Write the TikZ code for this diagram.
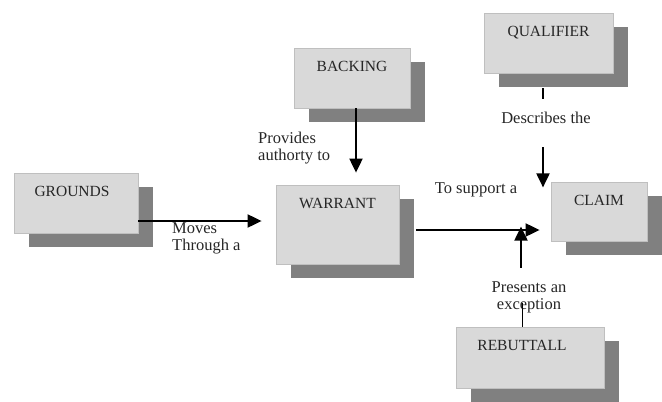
\documentclass[tikz,border=0pt]{standalone}
\usepackage{fontspec}
\setmainfont{Liberation Serif}
\usetikzlibrary{positioning, calc, arrows.meta, shadows}
\newcommand\argfont{\fontsize{15.5}{17}\selectfont}
\newcommand\linkfont{\fontsize{16.5}{17}\selectfont}
\tikzset{
  argbox/.style={draw=black!25, fill=black!15, line width=0.8pt, inner sep=0pt, minimum height=60pt,
    drop shadow={shadow xshift=15pt, shadow yshift=-14pt, fill=black!50, opacity=1}},
  title/.style={anchor=base, yshift=-24pt, font=\argfont, text=black!85},
  note/.style={font=\linkfont, inner sep=0pt, text=black!85},
  conn/.style={line width=2pt},
  >={Triangle[length=14pt,width=13pt]}
}
\begin{document}
\begin{tikzpicture}[x=1pt,y=-1pt]
\useasboundingbox (0,0) rectangle (662,402);
% the six parts of the argument
\node[argbox, minimum width=124pt, label={[title,xshift=-4pt]north:GROUNDS}] (grounds) at (76,203) {};
\node[argbox, minimum width=123pt, minimum height=79pt, label={[title]north:WARRANT}] (warrant) at (337.5,224.5) {};
\node[argbox, minimum width=116pt, label={[title]north:BACKING}] (backing) at (352,78) {};
\node[argbox, minimum width=129pt, label={[title]north:QUALIFIER}] (qualifier) at (548.5,43) {};
\node[argbox, minimum width=96pt, minimum height=59pt, label={[title]north:CLAIM}] (claim) at (599,211.5) {};
\node[argbox, minimum width=148pt, minimum height=61pt, label={[title,xshift=-8pt]north:REBUTTALL}] (rebuttal) at (530,357.5) {};

% texts on the links
\node[note, align=left, anchor=west] (moves) at (172,238.5) {Moves\\Through a};
\node[note, align=left, anchor=west] (provides) at (258,148) {Provides\\authorty to};
\node[note] (describes) at (546,118) {Describes the};
\node[note] (support) at (476,190) {To support a};
\node[note, align=center] (presents) at (529,297) {Presents an\\exception};

% links
\coordinate (g1) at ([yshift=-18pt]grounds.east);
\draw[conn,->,shorten >=14pt] (g1) -- (g1 -| warrant.west);
\coordinate (b1) at ([xshift=4pt]backing.south);
\draw[conn,->,shorten >=12pt] (b1) -- (b1 |- warrant.north);
\coordinate (w1) at ([xshift=17pt,yshift=-5.5pt]warrant.east);
\draw[conn,->,shorten >=11pt] (w1) -- (w1 -| claim.west);
\coordinate (q1) at ([xshift=-5.5pt,yshift=-15pt]qualifier.south);
\draw[conn] (q1) -- ([yshift=-11pt]q1);
\draw[conn,->] ([yshift=-59pt]q1) -- ([yshift=-99pt]q1);
\coordinate (r1) at ([xshift=-8pt]rebuttal.north);
\draw[line width=0.8pt] (r1) -- ([yshift=24pt]r1);
\draw[conn,->] ([xshift=-1pt,yshift=59pt]r1) -- ([xshift=-1pt,yshift=100pt]r1);
\end{tikzpicture}
\end{document}
